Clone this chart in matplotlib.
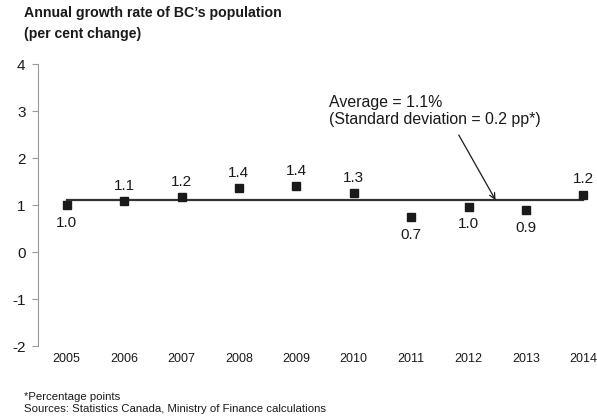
import numpy as np
import matplotlib.pyplot as plt

plt.rcParams['font.family'] = ['Liberation Sans', 'DejaVu Sans']
plt.rcParams['axes.unicode_minus'] = False

years = ['2005', '2006', '2007', '2008', '2009', '2010', '2011', '2012', '2013', '2014']
growth = [0.99, 1.08, 1.17, 1.36, 1.40, 1.26, 0.74, 0.96, 0.89, 1.22]
label_below = [True, False, False, False, False, False, True, True, True, False]
yticks = [-2, -1, 0, 1, 2, 3, 4]

avg = np.mean(growth)
sd = np.std(growth, ddof=1)
ink = '#1a1a1a'

fig = plt.figure(figsize=(5.97, 4.18), dpi=100)
ax = fig.add_axes([0.0637, 0.1722, 0.9615, 0.6746])

x = np.arange(len(years))
ax.plot([x[0], x[-1]], [avg, avg], color='#333333', lw=1.6, zorder=2)
ax.plot(x, growth, ls='none', marker='s', ms=6.3, color=ink, zorder=3)

# value labels, some placed under the marker
for xi, v, below in zip(x, growth, label_below):
    off = -12.5 if below else 11
    ax.annotate(f'{v:.1f}', (xi, v), xytext=(0, off), textcoords='offset points',
                ha='center', va='center', fontsize=11, color=ink)

ax.text(4.57, 3.0, f'Average = {avg:.1f}%\n(Standard deviation = {sd:.1f} pp*)',
        ha='left', va='center', fontsize=11.4, color=ink, linespacing=1.1)
ax.annotate('', xy=(7.47, avg), xytext=(6.83, 2.49),
            arrowprops=dict(arrowstyle='->', color=ink, lw=0.9,
                            shrinkA=0, shrinkB=0))

ax.set_xlim(-0.5, len(years) - 0.5)
ax.set_ylim(-2, 4)
ax.set_yticks(yticks)
ax.set_xticks(x)
ax.set_xticklabels(years)
ax.tick_params(axis='x', length=0, pad=5, labelsize=9, labelcolor=ink)
ax.tick_params(axis='y', length=4, width=0.8, color='#999999', pad=5,
               labelsize=11, labelcolor=ink)
for side in ['top', 'right', 'bottom']:
    ax.spines[side].set_visible(False)
ax.spines['left'].set_color('#999999')
ax.spines['left'].set_linewidth(0.8)

fig.text(0.040, 0.969, "Annual growth rate of BC\u2019s population",
         ha='left', va='center', fontsize=10.2, fontweight='bold', color=ink)
fig.text(0.040, 0.919, "(per cent change)",
         ha='left', va='center', fontsize=10.2, fontweight='bold', color=ink)
fig.text(0.040, 0.050, '*Percentage points', ha='left', va='center',
         fontsize=8.2, color=ink)
fig.text(0.040, 0.0215, 'Sources: Statistics Canada, Ministry of Finance calculations',
         ha='left', va='center', fontsize=8.2, color=ink)

fig.savefig('out.png', dpi=100)
